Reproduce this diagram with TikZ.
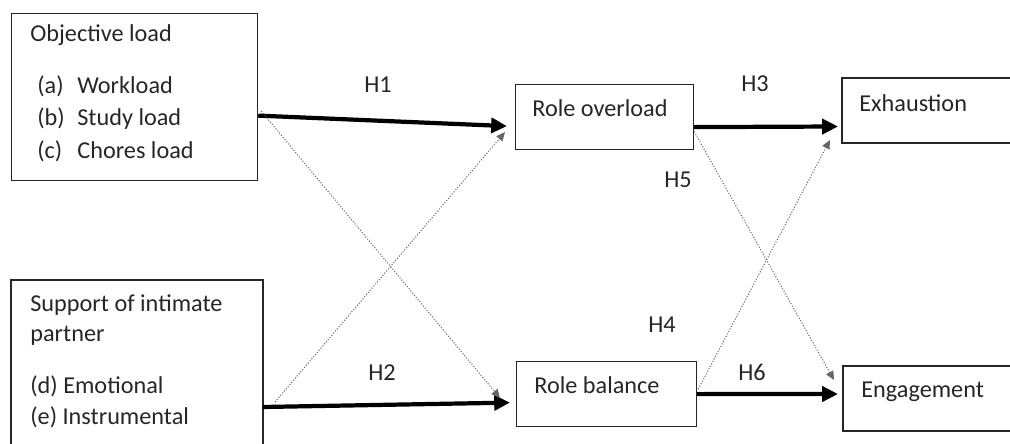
\documentclass[tikz,border=0pt]{standalone}
\usepackage{fontspec}
\setmainfont{Carlito}
\usetikzlibrary{arrows.meta,calc}

\tikzset{
  box/.style={draw=black!85, line width=0.7pt, anchor=north west, inner sep=0pt},
  openbox/.style={anchor=north west, inner sep=0pt, outer sep=0pt},
  edge/.style={draw=black!85, line width=0.7pt},
  lbl/.style={anchor=west, inner sep=0pt, text=black!85, font=\fontsize{13.8}{16}\selectfont},
  hyp/.style={inner sep=0pt, text=black!85, font=\fontsize{13.8}{16}\selectfont},
  strong/.style={line width=2.4pt, -{Triangle[length=9pt,width=8.5pt]}},
  weak/.style={densely dotted, line width=0.6pt, black!60, -{Triangle[length=5pt,width=4.5pt]}},
}

\begin{document}
\begin{tikzpicture}[x=0.2mm,y=-0.2mm]
\useasboundingbox (0,0) rectangle (1010,444);

\node[box, minimum width=49.2mm, minimum height=33.4mm] (obj) at (11,13) {};
\node[lbl] (objt) at (30,35) {Objective load};
\node[lbl] (obja) at (37,86) {\makebox[8mm][l]{(a)}Workload};
\node[lbl] (objb) at (37,119) {\makebox[8mm][l]{(b)}Study load};
\node[lbl] (objc) at (37,151) {\makebox[8mm][l]{(c)}Chores load};

\node[openbox, minimum width=50.4mm, minimum height=32.8mm] (sup) at (11,280) {};
\draw[edge] (sup.south west) -- (sup.north west) -- (sup.north east) -- (sup.south east);
\node[lbl] (supt) at (30,305) {Support of intimate};
\node[lbl] (supu) at (30,336) {partner};
\node[lbl] (supd) at (30,386) {(d) Emotional};
\node[lbl] (supe) at (30,417) {(e) Instrumental};

\node[box, minimum width=35.6mm, minimum height=13mm] (over) at (515,84) {};
\node[lbl] (overt) at (532,108) {Role overload};
\node[box, minimum width=36mm, minimum height=13mm] (bal) at (516,361) {};
\node[lbl] (balt) at (534,385) {Role balance};

\node[openbox, minimum width=33.6mm, minimum height=13mm] (exh) at (842,78) {};
\draw[edge] (exh.north east) -- (exh.north west) -- (exh.south west) -- (exh.south east);
\node[lbl] (exht) at (859,103) {Exhaustion};
\node[openbox, minimum width=33.4mm, minimum height=13mm] (eng) at (843,366) {};
\draw[edge] (eng.north east) -- (eng.north west) -- (eng.south west) -- (eng.south east);
\node[lbl] (engt) at (861,392) {Engagement};

\draw[strong] ($(obj.east)+(0,18.5)$) -- ($(over.west)+(-8,9)$);
\draw[strong] ($(sup.east)+(0,45)$) -- ($(bal.west)+(-6,8.5)$);
\draw[weak] ($(obj.east)+(3,14)$) -- ($(bal.west)+(-16,4)$);
\draw[weak] ($(sup.east)+(12,40)$) -- ($(over.west)+(-10,15)$);

\draw[strong] ($(over.east)+(0,10)$) -- ($(exh.west)+(-4,16)$);
\draw[strong] (bal.east) -- ($(eng.west)+(-5,-4.5)$);
\draw[weak] ($(over.east)+(0,14.5)$) -- ($(eng.west)+(-9,-18.5)$);
\draw[weak] ($(bal.east)+(1,-5)$) -- ($(exh.west)+(-12,29.5)$);

\node[hyp] (h1) at (378,85) {H1};
\node[hyp] (h2) at (382,373) {H2};
\node[hyp] (h3) at (755,84) {H3};
\node[hyp] (h5) at (678,180) {H5};
\node[hyp] (h4) at (662,325) {H4};
\node[hyp] (h6) at (752,372) {H6};
\end{tikzpicture}
\end{document}
